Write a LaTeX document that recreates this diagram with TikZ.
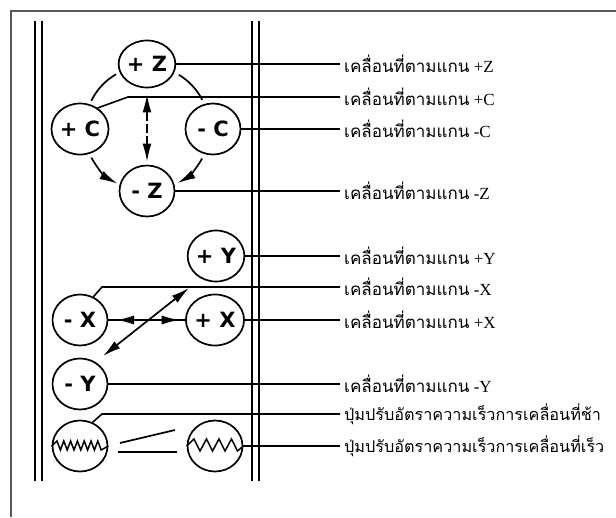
\documentclass[tikz,border=0pt]{standalone}
\usepackage{fontspec}
\setmainfont{Liberation Serif}
\newfontfamily\thaifont[Script=Thai]{Loma}
\newfontfamily\circfont{DejaVu Sans}
\usetikzlibrary{shapes.geometric,arrows.meta,decorations.markings,calc}
\begin{document}
\begin{tikzpicture}[x=1pt,y=-1pt,
  knob/.style={ellipse,draw,line width=1.7pt,minimum width=55pt,minimum height=51pt,inner sep=0pt,
    font=\circfont\bfseries\fontsize{21}{21}\selectfont},
  lead/.style={line width=1.6pt},
  rail/.style={line width=2.2pt},
  lbl/.style={anchor=west,inner ysep=0pt,inner xsep=4pt,font=\fontsize{17}{17}\selectfont},
  lbllong/.style={lbl,font=\fontsize{16.2}{16.2}\selectfont},
  thick line/.style={line width=1.7pt}
]
\useasboundingbox (0,0) rectangle (616,517);
% frame
\draw[black!65,line width=1.3pt] (11,517) -- (11,11) -- (616,11);
% rails
\foreach \x in {35,42,252,259} \draw[rail] (\x,21) -- (\x,481);
% knobs
\node[knob,minimum height=47pt] (pZ) at (147,64) {+ Z};
\node[knob] (pC) at (80,129) {+ C};
\node[knob] (mC) at (213,129) {- C};
\node[knob] (mZ) at (147,191) {- Z};
\node[knob] (pY) at (216,256) {+ Y};
\node[knob] (mX) at (80,320) {- X};
\node[knob] (pX) at (215,320) {+ X};
\node[knob] (mY) at (80,384) {- Y};
\node[knob] (slow) at (80,446) {};
\node[knob] (fast) at (215,446) {};
% labels
\node[lbl] (lpZ) at (340,64) {{\thaifont เคลื่อนที่ตามแกน} +Z};
\node[lbl] (lpC) at (340,97) {{\thaifont เคลื่อนที่ตามแกน} +C};
\node[lbl] (lmC) at (340,129) {{\thaifont เคลื่อนที่ตามแกน} -C};
\node[lbl] (lmZ) at (340,191) {{\thaifont เคลื่อนที่ตามแกน} -Z};
\node[lbl] (lpY) at (340,256) {{\thaifont เคลื่อนที่ตามแกน} +Y};
\node[lbl] (lmX) at (340,287) {{\thaifont เคลื่อนที่ตามแกน} -X};
\node[lbl] (lpX) at (340,320) {{\thaifont เคลื่อนที่ตามแกน} +X};
\node[lbl] (lmY) at (340,384) {{\thaifont เคลื่อนที่ตามแกน} -Y};
\node[lbllong] (lslow) at (340,414) {\thaifont ปุ่มปรับอัตราความเร็วการเคลื่อนที่ช้า};
\node[lbllong] (lfast) at (340,446) {\thaifont ปุ่มปรับอัตราความเร็วการเคลื่อนที่เร็ว};
% bend points
\coordinate (bC) at (128,97);
\coordinate (bX) at (102,287);
\coordinate (bS) at (102,414);
% leaders
\draw[lead] (pZ.east) -- (lpZ.west);
\draw[lead] (pC.50) -- (bC) -- (lpC.west);
\draw[lead] (mC.east) -- (lmC.west);
\draw[lead] (mZ.east) -- (lmZ.west);
\draw[lead] (pY.east) -- (lpY.west);
\draw[lead] (mX.60) -- (bX) -- (lmX.west);
\draw[lead] (pX.east) -- (lpX.west);
\draw[lead] (mY.east) -- (lmY.west);
\draw[lead] (slow.62) -- (bS) -- (lslow.west);
\draw[lead] (fast.east) -- (lfast.west);
% Z/C cycle
\coordinate (ctr) at (147,128);
\draw[thick line] ([shift={(240:62)}]ctr) arc[start angle=240,end angle=206,radius=62];
\draw[thick line] ([shift={(-59:62)}]ctr) arc[start angle=-59,end angle=-27,radius=62];
\draw[thick line,-{Latex[length=18pt,width=9pt]}] ([shift={(152:63)}]ctr) arc[start angle=152,end angle=118,radius=63];
\draw[thick line,-{Latex[length=18pt,width=9pt]}] ([shift={(29:63)}]ctr) arc[start angle=29,end angle=61,radius=63];
\draw[thick line,dash pattern=on 9pt off 3pt,{Latex[length=18pt,width=9pt]}-{Latex[length=18pt,width=9pt]}] (pZ.south) ++(0,6) coordinate (vA) (mZ.north) ++(0,-3) coordinate (vB) (vA) -- (vB);
% X/Y arrows
\draw[thick line,decoration={markings,
  mark=at position 0.1 with {\arrowreversed{Latex[length=18pt,width=9pt]}},
  mark=at position 0.93 with {\arrow{Latex[length=18pt,width=9pt]}}},postaction={decorate}] (mX.east) -- (pX.west);
\coordinate (dA) at (103,356);
\coordinate (dB) at (189,288);
\draw[thick line,{Latex[length=18pt,width=9pt]}-{Latex[length=18pt,width=9pt]}] (dA) -- (dB);
% zigzags
\draw[line width=1.5pt,line join=miter] (slow.west) \foreach \i in {0,...,6} { -- ({57+6.8*\i},441) -- ({60.4+6.8*\i},450) } -- (slow.east);
\draw[line width=1.5pt,line join=miter] (fast.west) \foreach \i in {0,...,3} { -- ({194+12.5*\i},439) -- ({200+12.5*\i},451) } -- (fast.east);
% speed switch marks
\draw[thick line] (120,443) -- (175,430);
\draw[thick line] (118,452) -- (177,452);
\end{tikzpicture}
\end{document}
